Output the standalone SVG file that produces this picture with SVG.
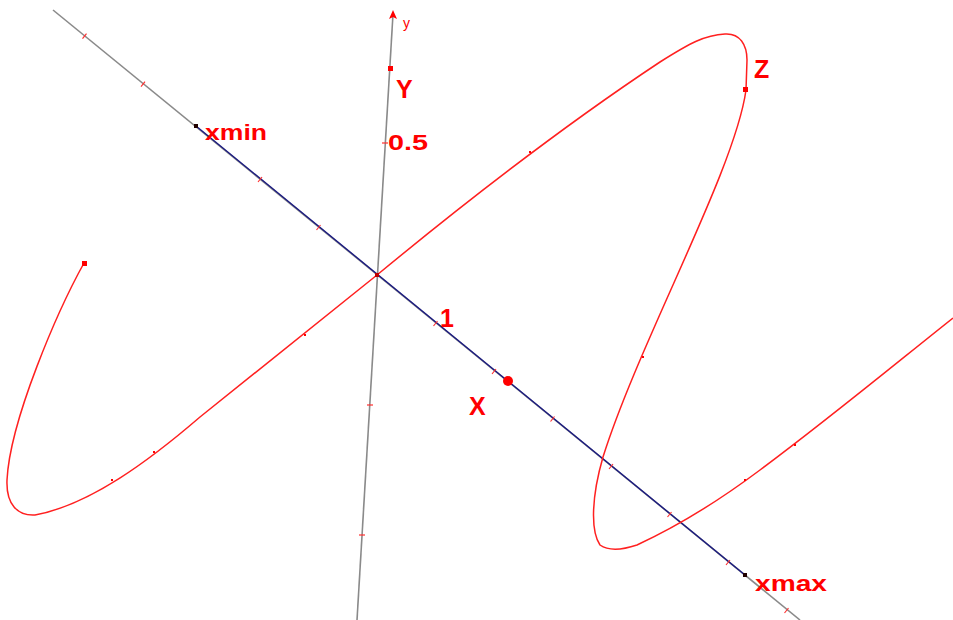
<svg xmlns="http://www.w3.org/2000/svg" width="953" height="620" viewBox="0 0 953 620">
<style>
.lbl{font-family:"Liberation Sans",Arial,sans-serif;font-weight:bold;font-size:22px;fill:#ff0000}
.big{font-size:25px}
.small{font-family:"Liberation Sans",Arial,sans-serif;font-size:14px;fill:#ff0000}
.gray{stroke:#8a8a8a;stroke-width:1.6;fill:none}
.blue{stroke:#1a1a80;stroke-width:1.4;fill:none}
.curve{stroke:#ff2020;stroke-width:1.5;fill:none;stroke-linejoin:round}
.tick{stroke:#ff3030;stroke-width:1.2}
.pt{fill:#ff0000}
</style>
<rect width="953" height="620" fill="#ffffff"/>
<g id="axes">
  <line class="gray" x1="53" y1="10" x2="800" y2="620"/>
  <line class="blue" x1="196" y1="126" x2="745" y2="575"/>
  <line class="gray" x1="357" y1="620" x2="393" y2="14"/>
  <path d="M393,10 L389,19 L393,17 L397,19 Z" fill="#ff0000"/>
  <g id="xticks">
    <line class="tick" x1="82.5" y1="38.7" x2="86.5" y2="33.7"/>
    <line class="tick" x1="141" y1="86.6" x2="145" y2="81.6"/>
    <line class="tick" x1="258" y1="182" x2="262" y2="177"/>
    <line class="tick" x1="316.5" y1="230" x2="320.5" y2="225"/>
    <line class="tick" x1="433.5" y1="326" x2="437.5" y2="321"/>
    <line class="tick" x1="492" y1="374" x2="496" y2="369"/>
    <line class="tick" x1="550.5" y1="421.5" x2="554.5" y2="416.5"/>
    <line class="tick" x1="609" y1="469" x2="613" y2="464"/>
    <line class="tick" x1="667.5" y1="517" x2="671.5" y2="512"/>
    <line class="tick" x1="726" y1="565" x2="730" y2="560"/>
    <line class="tick" x1="784.5" y1="613" x2="788.5" y2="608"/>
  </g>
  <g id="yticks">
    <line class="tick" x1="382" y1="143" x2="388" y2="143"/>
    <line class="tick" x1="367" y1="405" x2="373" y2="405"/>
    <line class="tick" x1="359" y1="535" x2="365" y2="535"/>
  </g>
</g>
<g id="curve">
  <path class="curve" d="M84,263 C58,310 10,420 7,480 C6,505 18,516 35,515 C90,505 150,460 200,417 L377,275 C480,190 580,115 660,62 C690,43 705,35 725,34 C740,33 747,45 747,60 L746,90 C735,170 640,340 603,457 C592,495 590,530 600,545 C610,552 625,549 637,545 C680,525 720,500 760,470 C830,418 900,360 953,318"/>
  <g fill="#ff0000">
    <rect x="153" y="451" width="2" height="2"/>
    <rect x="111" y="479" width="2" height="2"/>
    <rect x="304" y="334" width="2" height="2"/>
    <rect x="529" y="151" width="2" height="2"/>
    <rect x="642" y="356" width="2" height="2"/>
    <rect x="744" y="479" width="2" height="2"/>
    <rect x="794" y="444" width="2" height="2"/>
  </g>
</g>
<g id="points">
  <rect class="pt" x="82" y="261" width="5" height="5"/>
  <rect class="pt" x="388" y="66" width="5" height="5"/>
  <rect class="pt" x="743" y="87" width="5" height="5"/>
  <circle class="pt" cx="508" cy="381" r="5"/>
  <rect x="194" y="124" width="4" height="4" fill="#200000"/>
  <rect x="743" y="573" width="4" height="4" fill="#200000"/>
  <rect x="375" y="273" width="4" height="4" fill="#c00000"/>
</g>
<g id="labels">
  <text class="small" x="403" y="28">y</text>
  <text class="lbl big" x="396" y="98">Y</text>
  <text class="lbl" x="388" y="150" textLength="40" lengthAdjust="spacingAndGlyphs">0.5</text>
  <text class="lbl" x="205" y="140" textLength="62" lengthAdjust="spacingAndGlyphs">xmin</text>
  <text class="lbl big" x="754" y="78">Z</text>
  <text class="lbl big" x="440" y="327">1</text>
  <text class="lbl big" x="469" y="415">X</text>
  <text class="lbl" x="755" y="591" textLength="72" lengthAdjust="spacingAndGlyphs">xmax</text>
</g>
</svg>
